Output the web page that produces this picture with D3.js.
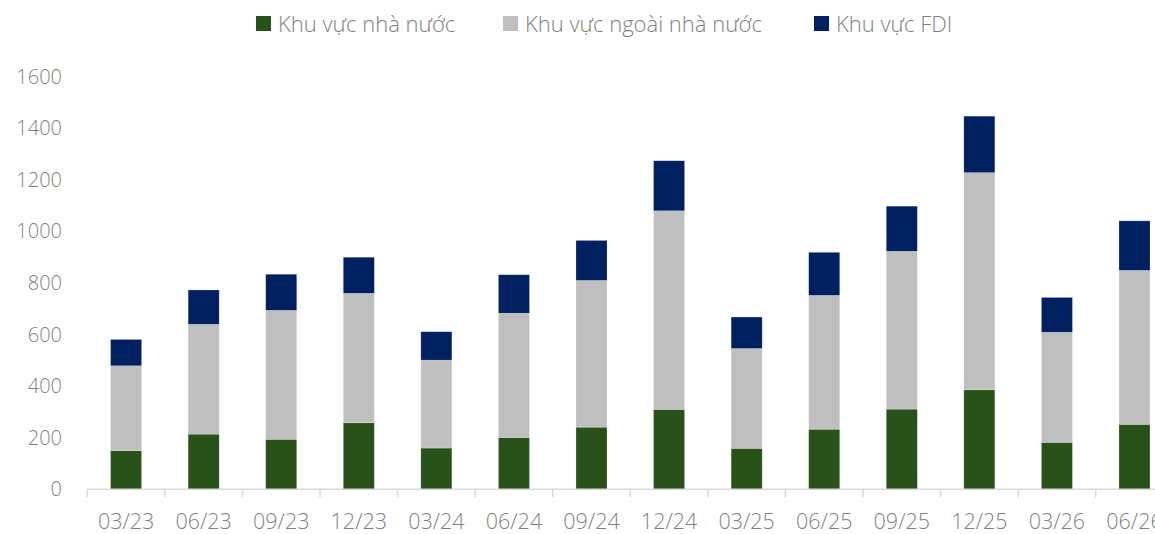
<!DOCTYPE html>
<html>
<head>
<meta charset="utf-8">
<script src="https://cdn.jsdelivr.net/npm/d3@7"></script>
<style>
  body { margin: 0; background: #fff; }
  svg text { font-family: "Open Sans", "Noto Sans", sans-serif; font-weight: 300; fill: #7f7f7f; }
</style>
</head>
<body>
<div id="chart"></div>
<script>
const quarters = ["03/23", "06/23", "09/23", "12/23", "03/24", "06/24", "09/24",
                  "12/24", "03/25", "06/25", "09/25", "12/25", "03/26", "06/26"];
const stateSector    = [150, 214, 194, 258, 160, 201, 241, 310, 159, 233, 311, 386, 182, 252];
const nonStateSector = [329, 426, 500, 502, 341, 482, 569, 770, 387, 519, 612, 842, 427, 597];
const fdiSector      = [102, 133, 140, 140, 110, 149, 155, 194, 122, 167, 175, 219, 135, 192];
const seriesNames = ["Khu vực nhà nước", "Khu vực ngoài nhà nước", "Khu vực FDI"];
const yTicks = [0, 200, 400, 600, 800, 1000, 1200, 1400, 1600];

const colors = ["#285219", "#bfbfbf", "#002060"];

const width = 1155, height = 534;

const svg = d3.select("#chart").append("svg")
  .attr("width", width)
  .attr("height", height);

// the axis runs past the right edge, last label gets cut like in the source
const x = d3.scaleBand()
  .domain(quarters)
  .range([87.3, 87.3 + 77.57 * quarters.length])
  .paddingInner(0.6)
  .paddingOuter(0.3);

const y = d3.scaleLinear()
  .domain([0, 1600])
  .range([489.3, 76.7]);

const rows = quarters.map((q, i) => ({
  q: q,
  s0: stateSector[i],
  s1: nonStateSector[i],
  s2: fdiSector[i]
}));

const stack = d3.stack().keys(["s0", "s1", "s2"]);
const layers = stack(rows);

svg.append("g")
  .selectAll("g")
  .data(layers)
  .join("g")
  .attr("fill", (d, i) => colors[i])
  .selectAll("rect")
  .data(d => d)
  .join("rect")
  .attr("x", d => x(d.data.q))
  .attr("width", x.bandwidth())
  .attr("y", d => y(d[1]))
  .attr("height", d => y(d[0]) - y(d[1]))
  .attr("stroke", "#ffffff")
  .attr("stroke-opacity", 0.35)
  .attr("stroke-width", 0.6);

// y axis labels, no line
svg.append("g")
  .selectAll("text")
  .data(yTicks)
  .join("text")
  .attr("x", 62)
  .attr("y", d => y(d))
  .attr("dy", "0.35em")
  .attr("text-anchor", "end")
  .style("font-size", "20px")
  .text(d => d);

// x axis
const step = x.step();
const xAxis = d3.axisBottom(x).tickSize(0).tickPadding(0);
const gx = svg.append("g")
  .attr("transform", `translate(0,${y(0)})`)
  .call(xAxis);
gx.select(".domain").remove();
gx.selectAll(".tick text")
  .attr("y", 32)
  .attr("dy", "0.35em")
  .style("font-size", "21.5px")
  .style("font-family", null);

gx.append("line")
  .attr("x1", x.range()[0])
  .attr("x2", x.range()[1])
  .attr("stroke", "#d9d9d9")
  .attr("stroke-width", 1.5);

gx.selectAll(".boundary")
  .data(quarters.concat(["end"]))
  .join("line")
  .attr("class", "boundary")
  .attr("x1", (d, i) => x.range()[0] + i * step)
  .attr("x2", (d, i) => x.range()[0] + i * step)
  .attr("y1", 0)
  .attr("y2", 8)
  .attr("stroke", "#d9d9d9")
  .attr("stroke-width", 1.5);

// legend
const legendX = [256, 503, 814];
const legend = svg.append("g")
  .selectAll("g")
  .data(seriesNames)
  .join("g")
  .attr("transform", (d, i) => `translate(${legendX[i]},16)`);

legend.append("rect")
  .attr("width", 15)
  .attr("height", 15)
  .attr("fill", (d, i) => colors[i]);

legend.append("text")
  .attr("x", 22)
  .attr("y", 8)
  .attr("dy", "0.35em")
  .style("font-size", "22px")
  .text(d => d);
</script>
</body>
</html>
